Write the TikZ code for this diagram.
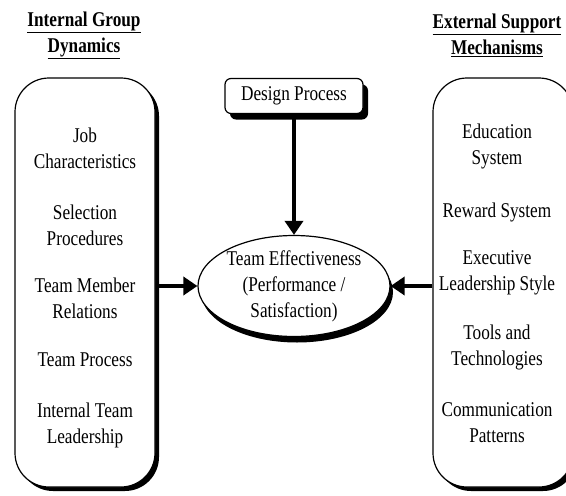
\documentclass[tikz,border=0pt]{standalone}
\usepackage{fontspec}
\setmainfont{Liberation Serif}[FakeStretch=0.82]
\usetikzlibrary{arrows.meta,shadows,shapes.geometric}

\tikzset{
  panel/.style={draw, line width=1.2pt, fill=white, rounded corners=34pt,
    minimum width=140pt, minimum height=409pt,
    drop shadow={shadow xshift=4pt, shadow yshift=-4pt, fill=black, opacity=1}},
  item/.style={align=center, font=\fontsize{21}{26}\selectfont},
  heading/.style={align=center, font=\bfseries\fontsize{21}{26}\selectfont},
  link/.style={line width=4pt, -{Triangle[length=14pt,width=18pt]}}
}

\begin{document}
\begin{tikzpicture}[x=1pt,y=-1pt]
  \clip (0,0) rectangle (566,496);

  % headings
  \node[heading] (inthead) at (84,35) {\underline{Internal Group}\\\underline{Dynamics}};
  \node[heading] (exthead) at (497,35) {\underline{External Support}\\\underline{Mechanisms}};

  % the two side panels
  \node[panel] (internal) at (85,282.5) {};
  \node[panel] (external) at (503,282.5) {};

  \foreach \y/\t [count=\i] in {148/{Job\\Characteristics}, 225/{Selection\\Procedures},
      298/{Team Member\\Relations}, 360/{Team Process}, 425/{Internal Team\\Leadership}}{
    \node[item] (int\i) at (85,\y) {\t};
  }

  \foreach \y/\t [count=\i] in {146/{Education\\System}, 212/{Reward System},
      273/{Executive\\Leadership Style}, 347/{Tools and\\Technologies}, 423/{Communication\\Patterns}}{
    \node[item] (ext\i) at (497,\y) {\t};
  }

  % centre
  \node[item, draw, line width=1.2pt, fill=white, rounded corners=6pt,
    minimum width=138pt, minimum height=35pt, inner sep=0pt,
    drop shadow={shadow xshift=5pt, shadow yshift=-6pt, fill=black, opacity=1}]
    (design) at (294,96) {Design Process};

  \node[item, ellipse, draw, line width=1.2pt, fill=white,
    minimum width=192pt, minimum height=101pt, inner sep=0pt,
    drop shadow={shadow xshift=3pt, shadow yshift=-6pt, fill=black, opacity=1}]
    (eff) at (294,286) {Team Effectiveness\\(Performance /\\Satisfaction)};

  \draw[link] (design.south) -- (eff.north);
  \draw[link] (eff.west -| internal.east) -- (eff.west);
  \draw[link] (eff.east -| external.west) -- (eff.east);
\end{tikzpicture}
\end{document}
